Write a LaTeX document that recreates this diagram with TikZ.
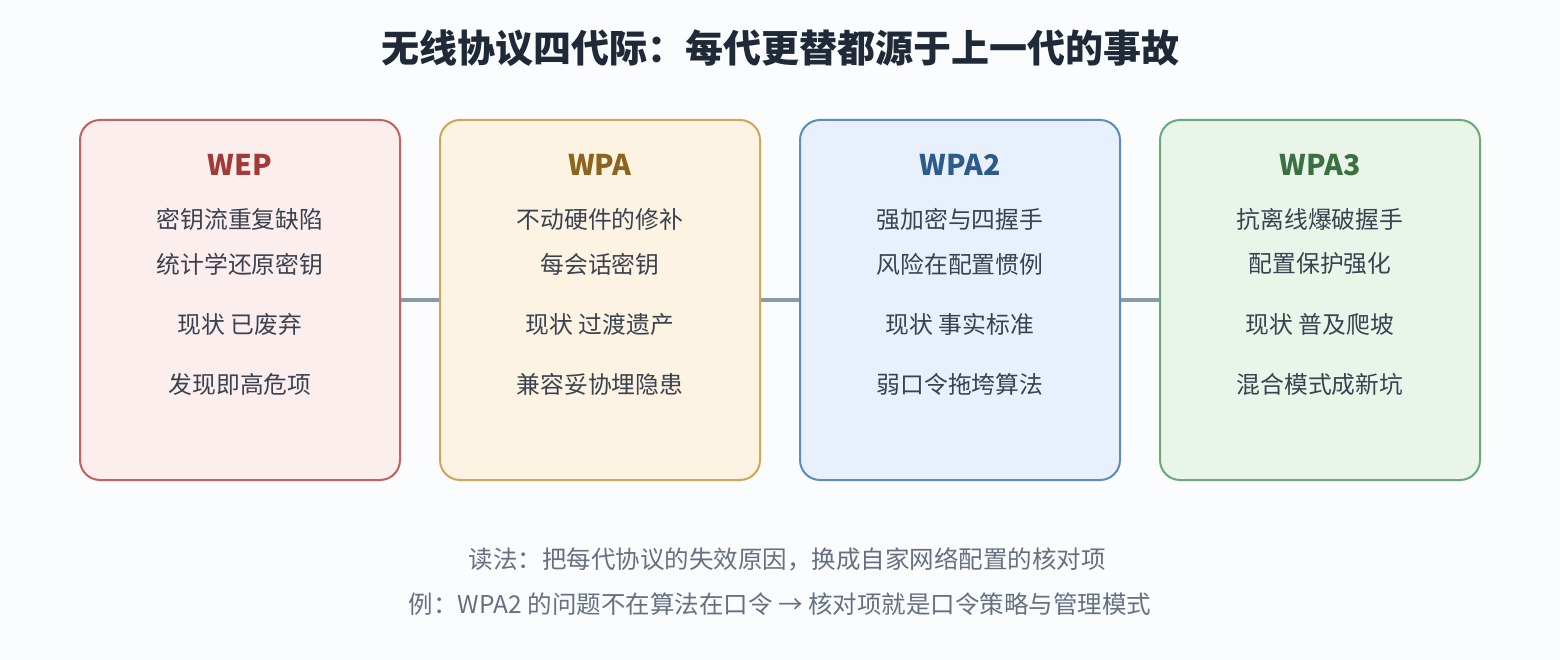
\documentclass[tikz,border=0pt]{standalone}
\usepackage{fontspec}
\setmainfont{Noto Sans CJK SC}
\definecolor{bg}{HTML}{FAFCFE}
\definecolor{titlec}{HTML}{1F2937}
\definecolor{bodyc}{HTML}{3A4250}
\definecolor{footc}{HTML}{667080}
\definecolor{linkc}{HTML}{8A9AAA}
\definecolor{rfill}{HTML}{FDEEEE}\definecolor{rdraw}{HTML}{C9605E}\definecolor{rtxt}{HTML}{A33A3A}
\definecolor{yfill}{HTML}{FDF3E3}\definecolor{ydraw}{HTML}{D1A65A}\definecolor{ytxt}{HTML}{8C6420}
\definecolor{bfill}{HTML}{E8F0FB}\definecolor{bdraw}{HTML}{5B8DBE}\definecolor{btxt}{HTML}{2B5C8C}
\definecolor{gfill}{HTML}{EAF5EA}\definecolor{gdraw}{HTML}{6AAA78}\definecolor{gtxt}{HTML}{3C7040}
\begin{document}
\begin{tikzpicture}[x=1pt,y=-1pt,
  card/.style={draw, line width=2pt, rounded corners=20pt, minimum width=320pt, minimum height=360pt, inner sep=0pt},
  head/.style={font=\fontsize{28.5}{31}\selectfont\bfseries},
  body/.style={text=bodyc, font=\fontsize{23.8}{26}\selectfont},
  foot/.style={text=footc, font=\fontsize{24.5}{27}\selectfont},
  link/.style={draw=linkc, line width=4pt}]
\fill[bg] (0,0) rectangle (1560,660);
\useasboundingbox (0,0) rectangle (1560,660);
\node[text=titlec, font=\fontsize{38}{42}\selectfont\bfseries] (title) at (780,48) {无线协议四代际：每代更替都源于上一代的事故};

\node[card, fill=rfill, draw=rdraw] (c1) at (240,300) {};
\node[card, fill=yfill, draw=ydraw] (c2) at (600,300) {};
\node[card, fill=bfill, draw=bdraw] (c3) at (960,300) {};
\node[card, fill=gfill, draw=gdraw] (c4) at (1320,300) {};

\draw[link] (c1.east) -- (c2.west);
\draw[link] (c2.east) -- (c3.west);
\draw[link] (c3.east) -- (c4.west);

% WEP
\node[head, text=rtxt] (h1) at (240,165) {WEP};
\node[body] (a1) at (240,219) {密钥流重复缺陷};
\node[body] (b1) at (240,264) {统计学还原密钥};
\node[body] (s1) at (240,324) {现状 已废弃};
\node[body] (n1) at (240,384) {发现即高危项};
% WPA
\node[head, text=ytxt] (h2) at (600,165) {WPA};
\node[body] (a2) at (600,219) {不动硬件的修补};
\node[body] (b2) at (600,264) {每会话密钥};
\node[body] (s2) at (600,324) {现状 过渡遗产};
\node[body] (n2) at (600,384) {兼容妥协埋隐患};
% WPA2
\node[head, text=btxt] (h3) at (960,165) {WPA2};
\node[body] (a3) at (960,219) {强加密与四握手};
\node[body] (b3) at (960,264) {风险在配置惯例};
\node[body] (s3) at (960,324) {现状 事实标准};
\node[body] (n3) at (960,384) {弱口令拖垮算法};
% WPA3
\node[head, text=gtxt] (h4) at (1320,165) {WPA3};
\node[body] (a4) at (1320,219) {抗离线爆破握手};
\node[body] (b4) at (1320,264) {配置保护强化};
\node[body] (s4) at (1320,324) {现状 普及爬坡};
\node[body] (n4) at (1320,384) {混合模式成新坑};

\node[foot] (f1) at (787,559) {读法：把每代协议的失效原因，换成自家网络配置的核对项};
\node[foot] (f2) at (780,604) {例：WPA2 的问题不在算法在口令 → 核对项就是口令策略与管理模式};
\end{tikzpicture}
\end{document}
